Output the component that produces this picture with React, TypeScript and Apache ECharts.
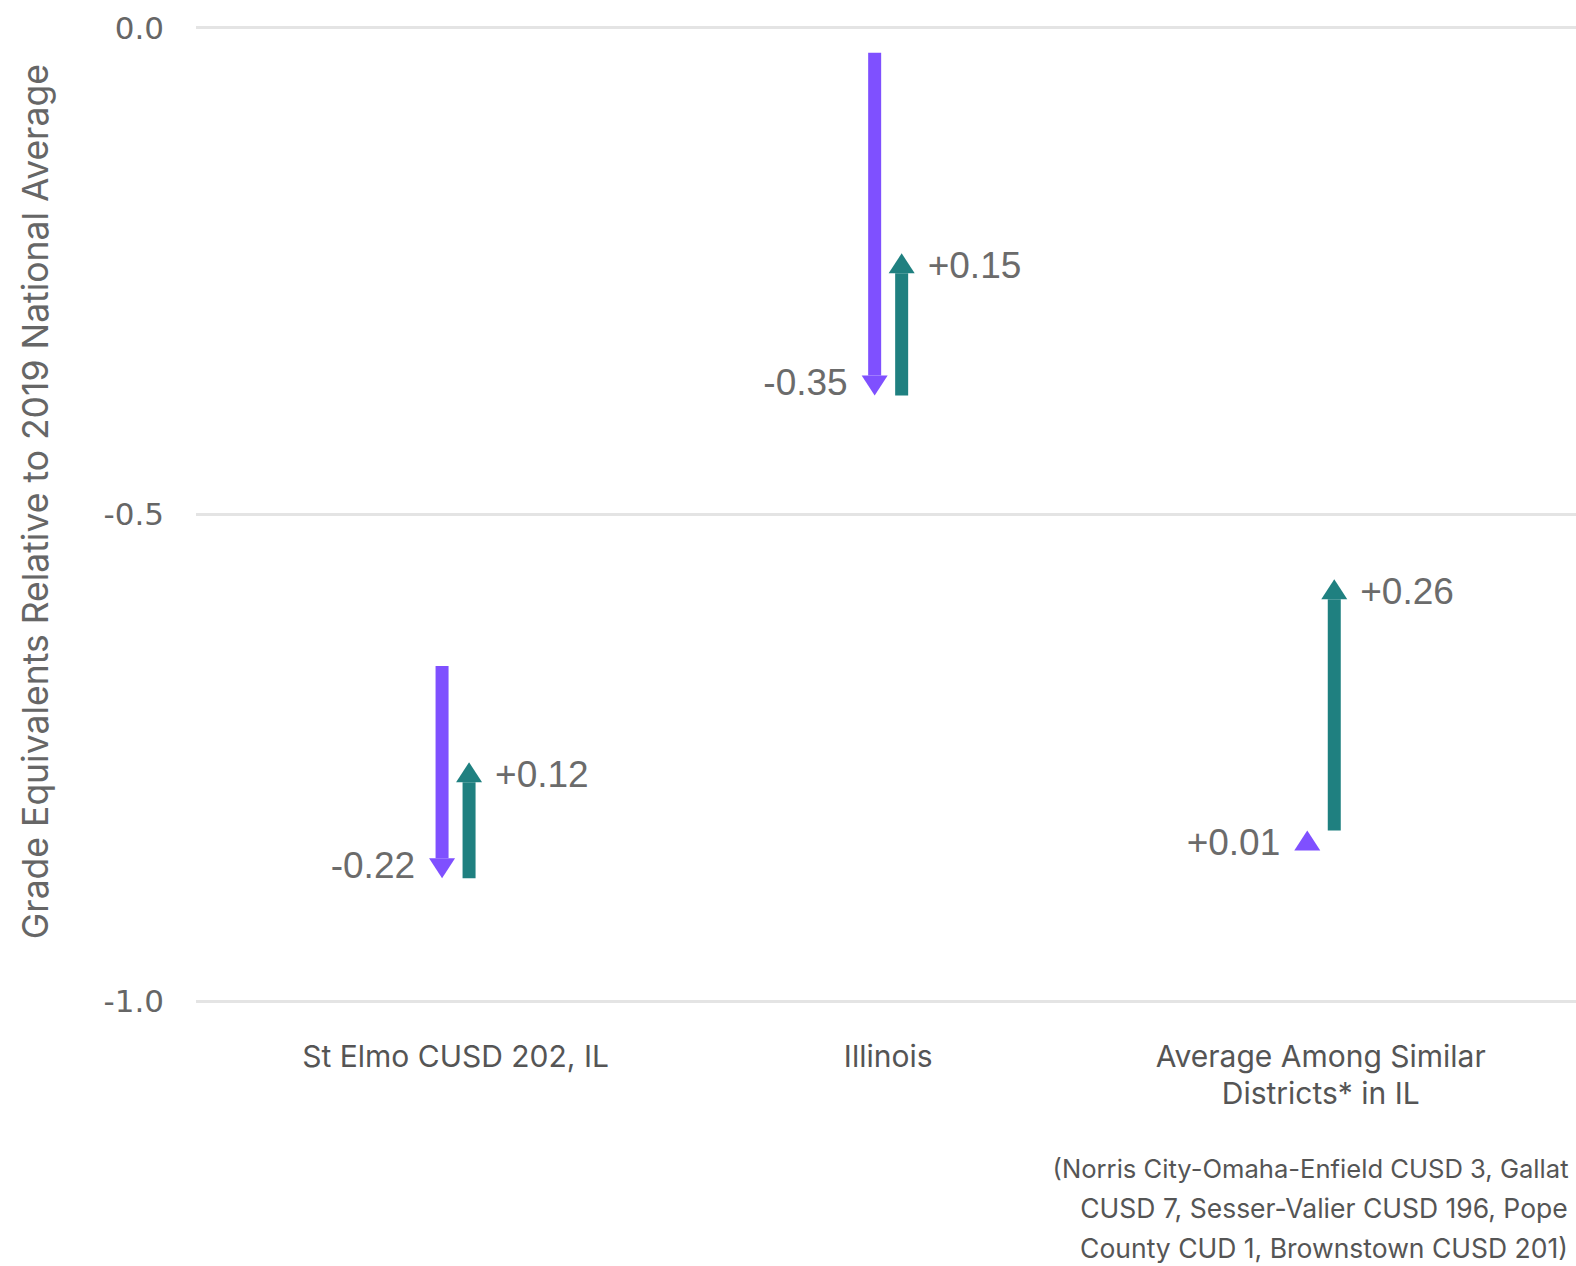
import React, { useEffect, useRef } from "react";
import * as echarts from "echarts";

// Categories (x positions 0, 1, 2)
const categories = [
  "St Elmo CUSD 202, IL",
  "Illinois",
  "Average Among Similar\nDistricts* in IL",
];
const footnoteLines = [
  "(Norris City-Omaha-Enfield CUSD 3, Gallatin",
  "CUSD 7, Sesser-Valier CUSD 196, Pope",
  "County CUD 1, Brownstown CUSD 201)",
];

// Grade equivalents relative to 2019 national average
const firstValues = [-0.656, -0.026, -0.835];
const secondValues = [-0.874, -0.378, -0.825];
const thirdValues = [-0.755, -0.232, -0.567];

const yTicks = [0, -0.5, -1.0];
const yAxisTitle = "Grade Equivalents Relative to 2019 National Average";

const PURPLE = "#7f50ff";
const TEAL = "#1f8080";

function makeArrow(offset: number, color: string, side: "left" | "right") {
  return (params: any, api: any) => {
    const x = api.value(0);
    const v0 = api.value(1);
    const v1 = api.value(2);
    const p0 = api.coord([x, v0]);
    const p1 = api.coord([x, v1]);
    const cx = p0[0] + offset;
    const dir = p1[1] < p0[1] ? -1 : 1;
    const headLen = 20;
    const headW = 26;
    const shaftW = 13;
    const baseY = p1[1] - dir * headLen;
    const children: any[] = [];
    const len = Math.abs(p1[1] - p0[1]);
    if (len > headLen) {
      children.push({
        type: "rect",
        shape: {
          x: cx - shaftW / 2,
          y: Math.min(p0[1], baseY),
          width: shaftW,
          height: Math.abs(baseY - p0[1]),
        },
        style: { fill: color },
      });
    }
    children.push({
      type: "polygon",
      shape: {
        points: [
          [cx - headW / 2, baseY],
          [cx + headW / 2, baseY],
          [cx, p1[1]],
        ],
      },
      style: { fill: color },
    });
    const delta = v1 - v0;
    const txt = (delta >= 0 ? "+" : "-") + Math.abs(delta).toFixed(2);
    children.push({
      type: "text",
      x: side === "left" ? cx - 27 : cx + 26,
      y: (baseY + p1[1]) / 2 + (dir > 0 ? -3 : 2),
      style: {
        text: txt,
        align: side === "left" ? "right" : "left",
        verticalAlign: "middle",
        fill: "#6b6b6b",
        fontSize: 37,
        fontFamily: '"Liberation Sans", Arial, sans-serif',
      },
    });
    return { type: "group", children };
  };
}

export default function App() {
  const ref = useRef<HTMLDivElement>(null);
  useEffect(() => {
    document.body.style.margin = "0";
    document.documentElement.style.overflow = "hidden";
    document.body.style.overflow = "hidden";
    if (!ref.current) return;
    const chart = echarts.init(ref.current, undefined, { renderer: "svg" });
    const firstData = categories.map((_, i) => [i, firstValues[i], secondValues[i]]);
    const secondData = categories.map((_, i) => [i, secondValues[i], thirdValues[i]]);
    const noteStyle = {
      fontSize: 26.5,
      fontFamily: "Inter, sans-serif",
      fill: "#555555",
      verticalAlign: "middle",
    };
    chart.setOption({
      animation: false,
      backgroundColor: "#ffffff",
      grid: { left: 196, top: 27.5, right: 0, height: 973.3 },
      xAxis: {
        type: "value",
        min: -0.6,
        max: 2.59,
        axisLine: { show: false },
        axisTick: { show: false },
        splitLine: { show: false },
        axisLabel: {
          customValues: [0, 1, 2],
          margin: 37,
          color: "#555555",
          fontSize: 30,
          fontFamily: "Inter, sans-serif",
          lineHeight: 36.5,
          formatter: (v: number) => categories[Math.round(v)] ?? "",
        },
      },
      yAxis: {
        type: "value",
        min: -1,
        max: 0,
        interval: 0.5,
        name: yAxisTitle,
        nameLocation: "middle",
        nameRotate: 90,
        nameGap: 143,
        nameTextStyle: {
          fontSize: 35.5,
          color: "#666666",
          fontFamily: "Inter, sans-serif",
          padding: [0, 0, 0, 25],
        },
        axisLine: { show: false },
        axisTick: { show: false },
        axisLabel: {
          margin: 32,
          fontSize: 31,
          color: "#666666",
          fontFamily: '"DejaVu Sans", sans-serif',
          customValues: yTicks,
          formatter: (v: number) => v.toFixed(1),
        },
        splitLine: { lineStyle: { color: "#e4e4e4", width: 3 } },
      },
      graphic: [
        {
          type: "text",
          x: 1052.6,
          y: 1168,
          style: {
            ...noteStyle,
            fontSize: 25.6,
            text: footnoteLines[0],
            align: "left",
            width: 523.4,
            overflow: "truncate",
            ellipsis: "",
          },
        },
        {
          type: "text",
          x: 1324,
          y: 1208,
          style: { ...noteStyle, text: footnoteLines[1], align: "center" },
        },
        {
          type: "text",
          x: 1324,
          y: 1247.5,
          style: { ...noteStyle, text: footnoteLines[2], align: "center" },
        },
      ],
      series: [
        {
          type: "custom",
          name: "First change",
          renderItem: makeArrow(-13.5, PURPLE, "left"),
          encode: { x: 0, y: [1, 2] },
          data: firstData,
          clip: false,
        },
        {
          type: "custom",
          name: "Second change",
          renderItem: makeArrow(13.5, TEAL, "right"),
          encode: { x: 0, y: [1, 2] },
          data: secondData,
          clip: false,
        },
      ],
    });
    return () => chart.dispose();
  }, []);
  return (
    <div
      ref={ref}
      style={{ width: 1576, height: 1266, overflow: "hidden" }}
    />
  );
}
